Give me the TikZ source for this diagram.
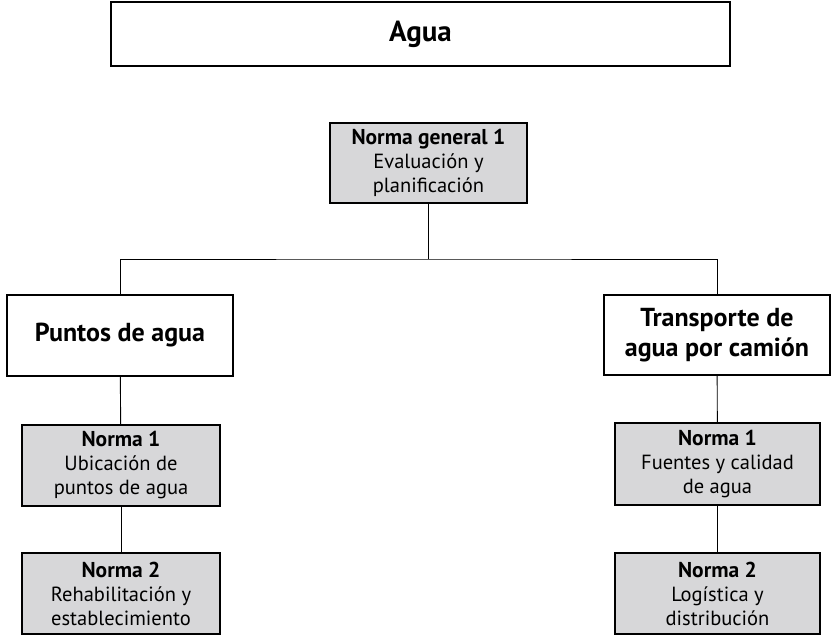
\documentclass[tikz,border=0pt]{standalone}
\usepackage{fontspec}
\setmainfont{PT Sans}
\usepackage{xcolor}
\usepackage{tikz}
\usetikzlibrary{positioning}

\definecolor{normagray}{RGB}{215,215,217}
\newcommand{\normatitle}[1]{{\fontsize{21.5}{24}\selectfont\bfseries #1}}

\begin{document}
\begin{tikzpicture}[
    x=1pt, y=-1pt,
    box/.style={rectangle, draw, line width=1.4pt, align=center, inner sep=2pt},
    head/.style={box, fill=white, font=\fontsize{26}{30}\selectfont\bfseries},
    norma/.style={box, fill=normagray, minimum height=81pt, font=\fontsize{20.5}{24}\selectfont},
    link/.style={line width=0.9pt}
]
    \useasboundingbox (0,0) rectangle (831,635);

    \node[box, minimum width=619pt, minimum height=64pt, font=\fontsize{29}{32}\selectfont\bfseries] (agua) at (420.5,34) {Agua};

    \node[norma, minimum width=197pt, minimum height=80pt] (gen) at (428.5,163) {\normatitle{Norma general 1}\\Evaluación y\\planificación};

    \node[head, minimum width=226pt, minimum height=81pt] (puntos) at (120,335.5) {Puntos de agua};
    \node[head, minimum width=226pt, minimum height=80pt] (camion) at (717,335) {Transporte de\\agua por camión};

    \node[norma, minimum width=198pt] (pn1) at (121,465.5) {\normatitle{Norma 1}\\Ubicación de\\puntos de agua};
    \node[norma, minimum width=198pt] (pn2) at (121,593.5) {\normatitle{Norma 2}\\Rehabilitación y\\establecimiento};

    \node[norma, minimum width=205pt, minimum height=82pt] (cn1) at (717.5,464) {\normatitle{Norma 1}\\Fuentes y calidad\\de agua};
    \node[norma, minimum width=205pt] (cn2) at (717.5,593.5) {\normatitle{Norma 2}\\Logística y\\distribución};

    \coordinate (split) at (428.5,259);

    \draw[link] (gen) -- (split);
    \draw[link] (puntos) |- (split) -| (camion);
    \draw[link] (puntos) -- (pn1);
    \draw[link] (pn1) -- (pn2);
    \draw[link] (camion) -- (cn1);
    \draw[link] (cn1) -- (cn2);
\end{tikzpicture}
\end{document}
